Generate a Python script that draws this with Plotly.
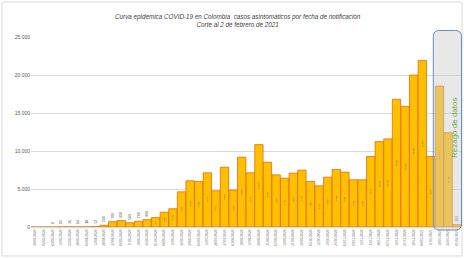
import plotly.graph_objects as go

semanas = [
    "24/02/2020", "02/03/2020", "09/03/2020", "16/03/2020", "23/03/2020",
    "30/03/2020", "06/04/2020", "13/04/2020", "20/04/2020", "27/04/2020",
    "04/05/2020", "11/05/2020", "18/05/2020", "25/05/2020", "01/06/2020",
    "08/06/2020", "15/06/2020", "22/06/2020", "29/06/2020", "06/07/2020",
    "13/07/2020", "20/07/2020", "27/07/2020", "03/08/2020", "10/08/2020",
    "17/08/2020", "24/08/2020", "31/08/2020", "07/09/2020", "14/09/2020",
    "21/09/2020", "28/09/2020", "05/10/2020", "12/10/2020", "19/10/2020",
    "26/10/2020", "02/11/2020", "09/11/2020", "16/11/2020", "23/11/2020",
    "30/11/2020", "07/12/2020", "14/12/2020", "21/12/2020", "28/12/2020",
    "04/01/2021", "11/01/2021", "18/01/2021", "25/01/2021", "01/02/2021",
]

casos = [
    0, 0, 1, 15, 21, 14, 18, 52, 230, 700,
    850, 560, 760, 960, 1240, 1950, 2400, 4630, 6080, 5980,
    7130, 4760, 7870, 4860, 9190, 7130, 10840, 8530, 6860, 6430,
    7090, 7480, 5990, 5420, 6560, 7560, 7220, 6210, 6210, 9270,
    11230, 11590, 16800, 15880, 19990, 21920, 9270, 18540, 12410, 300,
]

y_ticks = [0, 5000, 10000, 15000, 20000, 25000]

W, H = 464, 258
ML, MR, MT, MB = 31, 3, 37, 31
PW, PH = W - ML - MR, H - MT - MB


def px_x(px):
    return (px - ML) / PW


def px_y(py):
    return (H - MB - py) / PH


fig = go.Figure()
fig.add_trace(go.Bar(
    x=semanas, y=casos,
    marker=dict(color="#FFC000", line=dict(color="#E46C0A", width=0.8)),
    text=casos, texttemplate="%{y:,.0f}",
    textposition="auto", textangle=-90, insidetextanchor="middle",
    textfont=dict(size=3.5, color="#404040", family="Liberation Sans"),
    cliponaxis=False,
))


def rounded_rect(x0, y0, x1, y1, r):
    # pixel coords (y downward) -> paper path with rounded corners
    X0, X1 = px_x(x0), px_x(x1)
    Yt, Yb = px_y(y0), px_y(y1)
    rx, ry = r / PW, r / PH
    return (f"M {X0+rx},{Yt} L {X1-rx},{Yt} Q {X1},{Yt} {X1},{Yt-ry} "
            f"L {X1},{Yb+ry} Q {X1},{Yb} {X1-rx},{Yb} "
            f"L {X0+rx},{Yb} Q {X0},{Yb} {X0},{Yb+ry} "
            f"L {X0},{Yt-ry} Q {X0},{Yt} {X0+rx},{Yt} Z")


shapes = [
    dict(type="rect", xref="paper", yref="paper",
         x0=px_x(2), x1=px_x(462), y0=px_y(256), y1=px_y(2),
         line=dict(color="#D9D9D9", width=1), fillcolor="rgba(0,0,0,0)",
         layer="below"),
    dict(type="path", xref="paper", yref="paper",
         path=rounded_rect(433.3, 30.5, 461.5, 230, 6),
         line=dict(color="#6D8DC0", width=1),
         fillcolor="rgba(205,205,205,0.45)", layer="above"),
]

annotations = [
    dict(xref="paper", yref="paper", x=px_x(238), y=px_y(21),
         text="<i>Curva epidemica COVID-19 en Colombia  casos asintomáticos por fecha de notificación</i>"
              "<br><i>Corte al 2 de febrero de 2021</i>",
         showarrow=False, align="center", xanchor="center", yanchor="middle",
         font=dict(size=6.3, color="#404040", family="Liberation Sans")),
    dict(xref="paper", yref="paper", x=px_x(454), y=px_y(128),
         text="Rezago de datos", textangle=-90, showarrow=False,
         xanchor="center", yanchor="middle",
         font=dict(size=8, color="#6AAE3F", family="Liberation Sans")),
]

fig.update_layout(
    width=W, height=H,
    margin=dict(l=ML, r=MR, t=MT, b=MB, autoexpand=False),
    paper_bgcolor="white", plot_bgcolor="white",
    separators=",.",
    bargap=0.03,
    showlegend=False,
    shapes=shapes,
    annotations=annotations,
    font=dict(family="Liberation Sans", color="#595959"),
    xaxis=dict(
        type="category", tickmode="array", tickvals=semanas, ticktext=semanas,
        tickangle=-90, tickfont=dict(size=3.3, color="#7F7F7F"),
        showline=True, linecolor="#D9D9D9", linewidth=1,
        showgrid=False, ticks="", automargin=False,
        range=[-0.5, len(semanas) - 0.5],
    ),
    yaxis=dict(
        range=[0, 25000], tickvals=y_ticks, tickformat=",.0f",
        tickfont=dict(size=5, color="#595959"),
        showgrid=True, gridcolor="#D9D9D9", gridwidth=1,
        zeroline=False, showline=False, ticks="", automargin=False,
    ),
)

fig.write_html(
    "out.html",
    config={"displayModeBar": False},
    post_script="document.body.style.margin='0';document.body.style.padding='0';"
                "document.body.style.overflow='hidden';",
)
